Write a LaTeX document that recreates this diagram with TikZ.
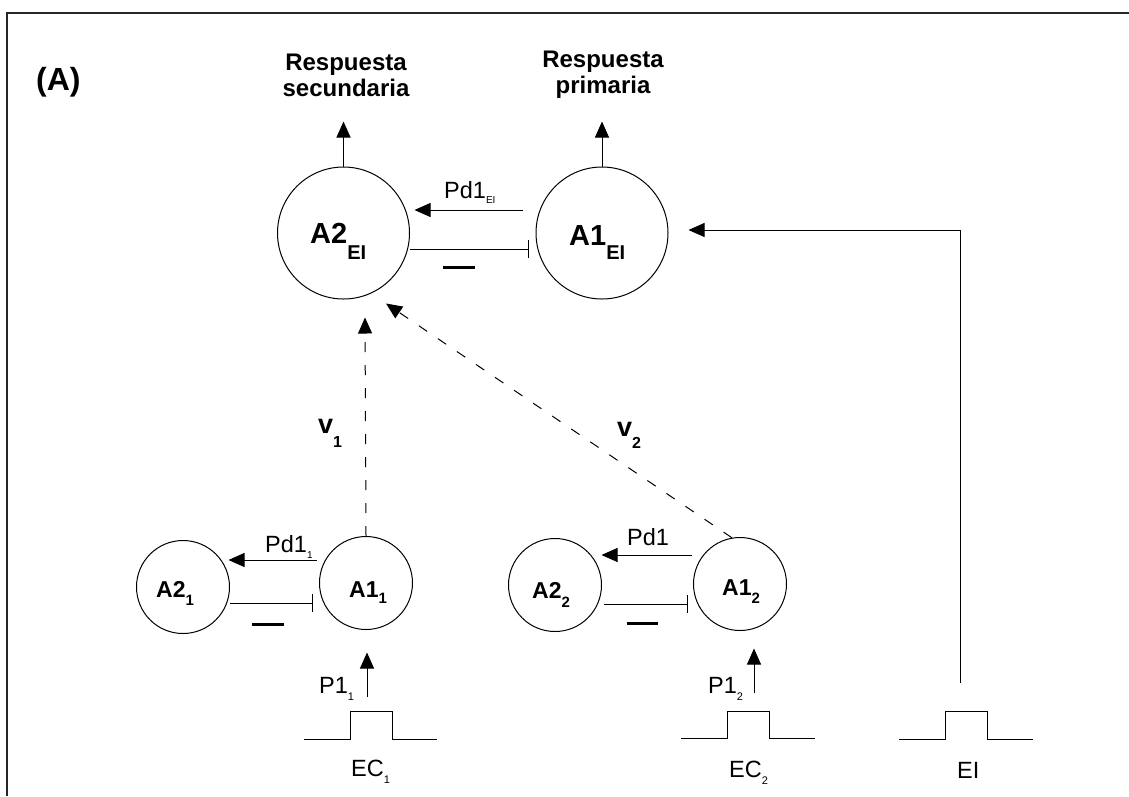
\documentclass[tikz,border=0pt]{standalone}
\usepackage{fontspec}
\setmainfont{Liberation Sans}
\usetikzlibrary{arrows.meta}
\newcommand\sbx[3]{\raisebox{-#1pt}{\fontsize{#2}{#2}\selectfont #3}}
\begin{document}
\begin{tikzpicture}[x=1pt,y=-1pt,
  ln/.style={line width=1pt, draw=black},
  arr/.style={ln,-{Triangle[length=16pt,width=14pt]}},
  inh/.style={ln,-{Bar[width=18pt,line width=1pt]}},
  dsh/.style={ln,dash pattern=on 10pt off 13pt,-{Triangle[length=16pt,width=14pt]}},
  neuron/.style={circle,draw=black,line width=1pt,inner sep=0pt},
  bign/.style={neuron,minimum size=132pt},
  smalln/.style={neuron,minimum size=93pt},
  minusbar/.style={line width=3pt},
  pulse/.style={line width=1pt},
  lbl/.style={inner sep=0pt,anchor=base west,font=\fontsize{23.5}{23.5}\selectfont},
  blbl/.style={lbl,font=\fontsize{23}{23}\selectfont\bfseries},
  bigtxt/.style={lbl,font=\fontsize{29}{29}\selectfont\bfseries},
  resp/.style={inner sep=0pt,align=center,font=\fontsize{24}{26}\selectfont\bfseries},
]
\useasboundingbox (0,0) rectangle (1129,796);
% frame
\draw[line width=1.5pt,draw=black!85] (7,796) -- (7,13) -- (1129,13);

% title
\node[lbl,font=\fontsize{32}{32}\selectfont\bfseries] (title) at (36,90) {(A)};

% big neurons
\node[bign] (A2EI) at (343.5,233) {};
\node[bign] (A1EI) at (602,233) {};
\node[bigtxt] (tA2EI) at (310,243) {A2\sbx{16}{20}{EI}};
\node[bigtxt] (tA1EI) at (569,245) {A1\sbx{14}{20}{EI}};

% responses
\node[resp] (r2) at (346,75) {Respuesta\\secundaria};
\node[resp] (r1) at (603,75) {Respuesta\\primaria};
\draw[arr] (A2EI.north) -- ++(0,-45);
\draw[arr] (A1EI.north) -- ++(0,-45);

% big interactions
\draw[arr] ([shift={(-13,-23)}]A1EI.west) -- ([shift={(4.5,-23)}]A2EI.east);
\node[lbl] (pdEI) at (444,198) {Pd1\sbx{5}{10}{EI}};
\draw[inh] ([shift={(0,16)}]A2EI.east) -- ([shift={(-7,16)}]A1EI.west);
\draw[minusbar] (443,267) -- (475,267);

% small neurons
\node[smalln] (A21) at (183,587) {};
\node[smalln] (A11) at (366,583) {};
\node[smalln] (A22) at (555,585) {};
\node[smalln] (A12) at (740,584) {};
\node[blbl] (tA21) at (156,597) {A2\sbx{8}{15}{1}};
\node[blbl] (tA11) at (349,597) {A1\sbx{6}{15}{1}};
\node[blbl] (tA22) at (532,598) {A2\sbx{9}{15}{2}};
\node[blbl] (tA12) at (722,595) {A1\sbx{8}{15}{2}};

% pair 1
\draw[arr] ([shift={(-2.5,-23)}]A11.west) -- ([shift={(-1.5,-27)}]A21.east);
\node[lbl] (pd1) at (265,552) {Pd1\sbx{6}{10}{1}};
\draw[inh] ([shift={(0,16)}]A21.east) -- ([shift={(-6.5,20)}]A11.west);
\draw[minusbar] (252,624) -- (284,624);

% pair 2
\draw[arr] ([shift={(-1.5,-29)}]A12.west) -- ([shift={(-0.5,-30)}]A22.east);
\node[lbl] (pd2) at (627,545) {Pd1};
\draw[inh] ([shift={(1.5,19)}]A22.east) -- ([shift={(-5.5,20)}]A12.west);
\draw[minusbar] (627,623) -- (658,623);

% associative links
\draw[dsh] (A11.north) -- ([shift={(21.5,18)}]A2EI.south);
\draw[dsh] (A12.100) -- ([shift={(42.5,4)}]A2EI.south);
\node[blbl,font=\fontsize{27}{27}\selectfont\bfseries] (v1) at (318,433) {v\sbx{14}{16}{1}};
\node[blbl,font=\fontsize{27}{27}\selectfont\bfseries] (v2) at (617,436) {v\sbx{12}{16}{2}};

% inputs
\coordinate (p1) at (367,697);
\coordinate (p2) at (754,693);
\coordinate (pe) at (960,683);
\draw[arr] (p1) -- ([shift={(1,22.5)}]A11.south);
\draw[arr] (p2) -- ([shift={(14,17.5)}]A12.south);
\draw[arr] (pe) -- (960,230) -- ([shift={(20,-3)}]A1EI.east);
\node[lbl] (P11) at (319,693) {P1\sbx{7}{11}{1}};
\node[lbl] (P12) at (708,693) {P1\sbx{7}{11}{2}};

% pulses
\draw[pulse] (304,739) -- (350,739) -- (350,711) -- (392,711) -- (392,739) -- (437,739);
\draw[pulse] (681,738) -- (727,738) -- (727,711) -- (769,711) -- (769,738) -- (815,738);
\draw[pulse] (899,739) -- (945,739) -- (945,711) -- (987,711) -- (987,739) -- (1033,739);
\node[lbl] (EC1) at (351,776) {EC\sbx{7}{11}{1}};
\node[lbl] (EC2) at (729,777) {EC\sbx{7}{11}{2}};
\node[lbl] (EIl) at (957,778) {EI};
\end{tikzpicture}
\end{document}
